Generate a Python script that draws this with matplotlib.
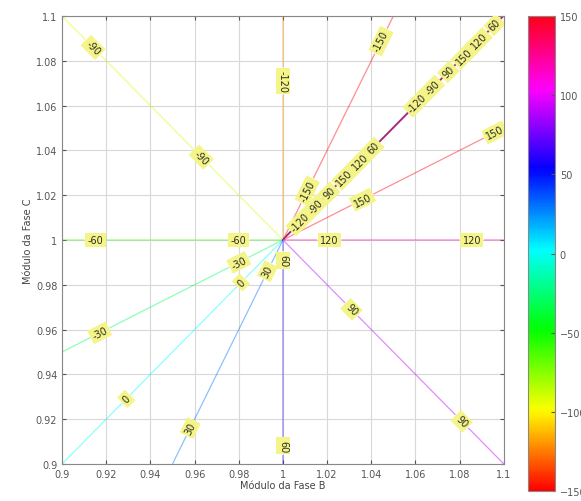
import numpy as np
import matplotlib.pyplot as plt
from matplotlib.cm import ScalarMappable
from matplotlib.colors import Normalize

# modulos das fases B e C (fase A = 1 pu)
mod_b = np.linspace(0.9, 1.1, 401)
mod_c = np.linspace(0.9, 1.1, 401)
niveis = [-150, -120, -90, -60, -30, 0, 30, 60, 90, 120, 150]
ticks_eixo = [0.9, 0.92, 0.94, 0.96, 0.98, 1, 1.02, 1.04, 1.06, 1.08, 1.1]
ticks_cbar = [-150, -100, -50, 0, 50, 100, 150]

# posicoes dos rotulos de cada curva
pos_rotulos = {
    -150: [(1.011, 1.022), (1.046, 1.088)],
    -120: [(1.0, 1.071), (1.008, 1.008), (1.061, 1.061)],
    -90: [(0.914, 1.086), (0.963, 1.037), (1.015, 1.015), (1.068, 1.068)],
    -60: [(0.915, 1.0), (0.98, 1.0)],
    -30: [(0.917, 0.9585), (0.98, 0.99)],
    0: [(0.929, 0.929), (0.981, 0.981)],
    30: [(0.958, 0.916), (0.993, 0.986)],
    60: [(1.0, 0.991), (1.0, 0.908), (1.041, 1.041), (1.096, 1.096)],
    90: [(1.031, 0.969), (1.081, 0.919), (1.021, 1.021), (1.075, 1.075)],
    120: [(1.021, 1.0), (1.0855, 1.0), (1.035, 1.035), (1.089, 1.089)],
    150: [(1.036, 1.018), (1.096, 1.048), (1.028, 1.028), (1.082, 1.082)],
}

a = np.exp(2j * np.pi / 3)
B, C = np.meshgrid(mod_b, mod_c)
# angulo da sequencia negativa (graus)
ang = np.degrees(np.angle(1 + a * B + a**2 * C))

fig = plt.figure(figsize=(5.81, 5.02), dpi=100)
ax = fig.add_axes([0.107, 0.074, 0.76, 0.892])

ax.grid(True, color='#d8d8d8', linewidth=0.8)
ax.set_axisbelow(True)

norm = Normalize(-150, 150)
cmap = plt.get_cmap('hsv')
rotulos = []
# uma curva por nivel, cada uma com os seus rotulos
for lev in niveis:
    cs = ax.contour(B, C, ang, levels=[lev], colors=[cmap(norm(lev))],
                    linestyles='solid', linewidths=0.9, alpha=0.45)
    rotulos += cs.clabel(manual=pos_rotulos[lev], fmt='%d', fontsize=7,
                         inline=True, inline_spacing=3)
for t in rotulos:
    t.set_color('#2a2a2a')
    t.set_bbox(dict(boxstyle='square,pad=0.25', fc='#f4f488', ec='none'))

ax.set_xlim(0.9, 1.1)
ax.set_ylim(0.9, 1.1)
ax.set_xticks(ticks_eixo)
ax.set_yticks(ticks_eixo)
ax.set_xticklabels([f'{v:g}' for v in ticks_eixo])
ax.set_yticklabels([f'{v:g}' for v in ticks_eixo])
ax.tick_params(direction='in', top=True, right=True, labelsize=7,
               colors='#555555', length=3)
for s in ax.spines.values():
    s.set_color('#888888')
ax.set_xlabel('Módulo da Fase B', fontsize=7, color='#444444', labelpad=1)
ax.set_ylabel('Módulo da Fase C', fontsize=7, color='#444444', labelpad=2)

cax = fig.add_axes([0.909, 0.02, 0.046, 0.946])
sm = ScalarMappable(norm=norm, cmap=cmap)
cb = fig.colorbar(sm, cax=cax, ticks=ticks_cbar)
cb.ax.tick_params(direction='in', labelsize=7, colors='#555555', length=3)
cb.outline.set_edgecolor('#888888')

fig.savefig('out.png', dpi=100)
